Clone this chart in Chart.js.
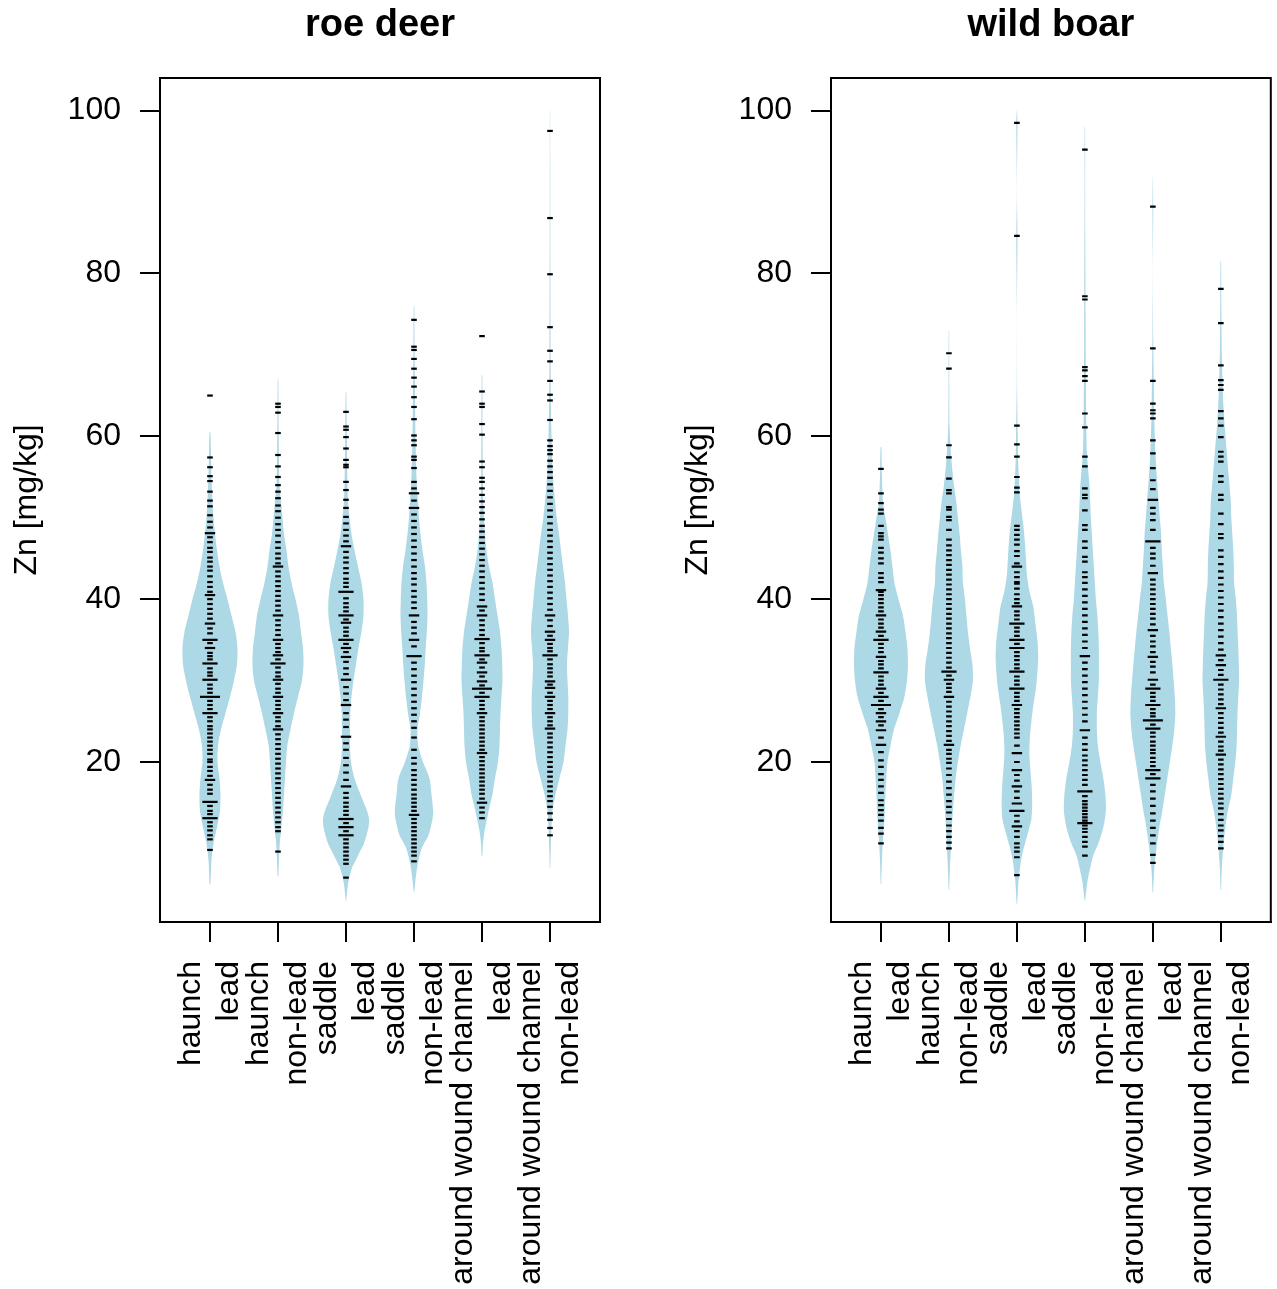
<!DOCTYPE html>
<html lang="en">
<head>
    <meta charset="UTF-8">
    <script src="https://cdn.jsdelivr.net/npm/chart.js"></script>
    <style>
        body { margin: 0; background: #fff; }
        canvas { position: absolute; top: 0; }
        #roeChart { left: 0; }
        #boarChart { left: 671px; }
    </style>
    <title>Zn beanplots</title>
</head>
<body>

<canvas id="roeChart" width="640" height="1289"></canvas>
<canvas id="boarChart" width="606" height="1289"></canvas>

<script>
    // categories (two-line tick labels) and y ticks
    const categories = [
        ['haunch', 'lead'], ['haunch', 'non-lead'],
        ['saddle', 'lead'], ['saddle', 'non-lead'],
        ['around wound channel', 'lead'], ['around wound channel', 'non-lead']
    ];
    const yTicks = [20, 40, 60, 80, 100];

    // bean outlines: density levels (Zn) and half widths
    const roeHaunchLeadY = [5, 8, 10, 12, 14, 16, 18, 20, 22, 24, 26, 28, 30, 32, 34, 36, 38, 40, 42, 44, 46, 48, 50, 52, 55, 58, 60.5];
    const roeHaunchLeadW = [0.5, 1.5, 3.5, 7, 10, 10.5, 9.5, 7.5, 8, 11, 15.5, 20, 24, 27, 27.5, 25.5, 21.5, 17.5, 13, 9.5, 7, 5, 3.5, 2.5, 1.5, 1, 0.4];
    const roeHaunchNonleadY = [6, 8, 10, 12, 14, 16, 18, 20, 22, 24, 26, 28, 30, 32, 34, 36, 38, 40, 42, 44, 46, 48, 50, 52, 54, 57, 60, 63, 67];
    const roeHaunchNonleadW = [0.4, 1, 1.8, 3.5, 5, 6, 7, 8, 9.3, 12.5, 16, 20, 24, 25.5, 25, 23, 21, 17.5, 13.5, 10.5, 8.5, 6, 4.5, 3, 1.5, 1, 0.7, 0.5, 0.3];
    const roeSaddleLeadY = [3, 5, 7, 8, 9, 10, 12, 13, 14, 16, 18, 20, 22, 24, 26, 28, 30, 32, 34, 36, 38, 40, 42, 44, 46, 48, 50, 52, 55, 60, 65.5];
    const roeSaddleLeadW = [0.3, 2, 6, 10, 14, 18, 22.5, 23, 21, 14.5, 8.5, 5, 4, 4, 4.3, 5.5, 7.5, 10, 12.5, 15.5, 17.5, 17.5, 15.5, 12, 8.5, 5.5, 3.5, 2, 1.3, 0.8, 0.3];
    const roeSaddleNonleadY = [4, 5.5, 7.5, 9.5, 11, 13, 14, 16, 18, 20, 22, 24, 26, 28, 30, 32, 34, 36, 38, 40, 42, 44, 46, 48, 50, 52, 55, 60, 65, 70, 76];
    const roeSaddleNonleadW = [0.3, 1.5, 3.8, 8, 14.5, 18.5, 19.2, 17.5, 15.5, 9, 4.2, 3.5, 6, 8, 9.5, 10.8, 11.7, 12.8, 13.5, 13.2, 12.5, 11, 8.5, 6.5, 5, 4, 2.5, 1.5, 1, 0.6, 0.3];
    const roeWoundLeadY = [8.5, 10, 11.5, 13, 14.5, 16, 18, 20, 22, 24, 26, 28, 30, 32, 34, 36, 38, 40, 42, 44, 46, 48, 50, 52, 55, 60, 67.5];
    const roeWoundLeadW = [0.4, 1, 2.5, 5, 7.5, 10.5, 13, 16, 17.5, 18, 18.5, 19.5, 20.5, 20.2, 19.5, 18, 15.5, 13, 10.5, 7, 4.5, 3, 2, 1.3, 0.8, 0.6, 0.3];
    const roeWoundNonleadY = [7, 9.5, 12, 14, 16, 18, 20, 22, 24, 26, 28, 30, 32, 34, 36, 38, 40, 42, 44, 46, 48, 50, 52, 55, 60, 65, 70, 75, 80, 85, 90, 95, 100];
    const roeWoundNonleadW = [0.3, 0.8, 1.5, 2.5, 5.5, 9.5, 13.5, 15.5, 17.5, 18.3, 18.3, 17.5, 17, 18, 19, 18, 16.5, 15, 13, 11, 9, 6.7, 5, 3, 1.5, 0.8, 0.6, 0.5, 0.4, 0.3, 0.25, 0.2, 0.15];

    const boarHaunchLeadY = [5, 8, 10.5, 13.5, 16, 18, 20, 22, 24, 26, 28, 30, 32, 34, 36, 38, 40, 42, 44, 46, 48, 50, 52, 55, 58.7];
    const boarHaunchLeadW = [0.3, 1, 2, 3.7, 4.5, 5.3, 6.5, 9.5, 13, 18.5, 23.5, 26, 27, 26.5, 24.5, 22, 17.5, 13.5, 11.5, 9.5, 7, 4.5, 2, 1, 0.4];
    const boarHaunchNonleadY = [4.3, 7, 9.5, 12, 14, 16, 18, 20, 22, 24, 26, 28, 30, 32, 34, 36, 38, 40, 42, 44, 46, 48, 50, 52, 54, 56, 58, 60, 62, 66, 70, 73];
    const boarHaunchNonleadW = [0.3, 1, 2, 3, 4, 5.3, 6.7, 9, 11.7, 15, 18.3, 21.5, 24, 23.5, 21, 19, 17.5, 16, 14, 13.5, 12, 10.7, 9, 7.3, 5, 3.3, 2, 1, 0.5, 0.4, 0.3, 0.2];
    const boarSaddleLeadY = [2.6, 5.5, 8.5, 11.5, 13, 15, 17, 19, 21, 23, 25, 27, 29, 31, 33, 35, 37, 39, 41, 43, 45, 47, 49, 51, 53, 56, 59, 64, 67, 75, 84.5, 90, 98.5, 100];
    const boarSaddleLeadW = [0.3, 1.7, 5, 11.5, 14.5, 15.3, 14.8, 13.5, 12.5, 13, 14.5, 16.5, 19, 20.5, 21.3, 20.5, 18.5, 16.5, 12.5, 10, 9, 8, 6.5, 4.5, 2.8, 1.5, 1, 0.4, 0.15, 0.05, 0.6, 0.05, 0.6, 0.1];
    const boarSaddleNonleadY = [3, 5.5, 8.5, 10, 12, 14, 16, 18, 20, 22, 24, 26, 28, 30, 32, 34, 36, 38, 40, 42, 44, 46, 48, 50, 54, 58, 62, 66, 70, 75, 80, 85, 90, 95, 98];
    const boarSaddleNonleadW = [0.3, 2.8, 8.3, 13.5, 18.5, 21, 20.5, 18.5, 15.5, 13, 12, 12, 13, 14, 14, 14, 13.5, 12.5, 11, 10, 9, 8, 7, 6, 4.5, 2, 1.3, 1, 0.8, 0.7, 0.6, 0.4, 0.3, 0.3, 0.2];
    const boarWoundLeadY = [4, 7, 9.6, 12, 14, 16, 18, 20, 22, 24, 26, 28, 30, 32, 34, 36, 38, 40, 42, 44, 46, 48, 50, 52, 55, 58, 62, 66, 72, 80, 88, 92];
    const boarWoundLeadW = [0.3, 1.5, 3.8, 6.5, 9.5, 12, 14.5, 17, 19.5, 21.5, 22.5, 22, 20.8, 19.5, 18, 16.5, 14.7, 13, 11, 10, 9, 8.3, 7, 5.8, 4, 2.5, 1.5, 1, 0.4, 0.05, 0.4, 0.05];
    const boarWoundNonleadY = [4.3, 7, 9.6, 12, 14, 16, 18, 20, 22, 24, 26, 28, 30, 32, 34, 36, 38, 40, 42, 44, 46, 48, 50, 52, 55, 58, 61, 64, 67, 70, 75, 81.5];
    const boarWoundNonleadW = [0.3, 1, 2.5, 4.5, 7, 10.5, 12.5, 14.5, 15.8, 16.3, 16.7, 17.5, 18.3, 18, 17.5, 16.8, 16.2, 15, 13.3, 13, 12.5, 11.5, 10.5, 10, 8, 6, 4, 2.5, 1.7, 1, 0.6, 0.3];

    // individual Zn values (mg/kg); repeated values give the longer bean lines
    const roeHaunchLeadZn = [65, 57.4, 56.2, 55.1, 54.5, 53.2, 52.1, 51.4, 50.3, 49.5, 48.8, 48.1, 48.1, 47.6, 47.0, 46.3, 45.8, 45.1, 44.6, 44.0, 43.5, 42.8, 42.1, 41.5, 40.9, 40.5, 40.5, 40.0, 39.4, 38.8, 38.2, 37.6, 37.0, 37.0, 36.4, 35.8, 35.0, 35.0, 35.0, 34.6, 34.0, 34.0, 33.4, 33.0, 32.6, 32.1, 32.1, 32.1, 31.5, 31.0, 30.6, 30.1, 30.1, 30.1, 29.5, 29.0, 28.5, 28.0, 28.0, 28.0, 28.0, 27.5, 27.0, 26.5, 26.0, 26.0, 26.0, 25.5, 25.0, 24.4, 24.0, 23.5, 23.0, 22.5, 22.0, 21.5, 21.0, 20.3, 20.0, 19.4, 18.9, 18.3, 17.8, 17.8, 17.2, 16.6, 16.1, 15.1, 15.1, 15.1, 14.6, 14.0, 13.6, 13.1, 13.1, 13.1, 12.6, 12.1, 11.6, 11.0, 10.5, 9.2];
    const roeHaunchNonleadZn = [64.0, 63.6, 62.9, 60.4, 57.7, 56.3, 55.0, 54.0, 53.2, 52.4, 51.5, 50.8, 50.0, 49.2, 48.5, 47.8, 47.0, 46.3, 45.6, 45.0, 44.4, 44.0, 44.0, 43.4, 42.8, 42.2, 41.6, 41.0, 40.4, 39.8, 39.2, 38.6, 38.0, 38.0, 37.4, 36.8, 36.2, 35.6, 35.0, 35.0, 34.5, 34.0, 33.5, 33.1, 33.1, 32.6, 32.1, 32.1, 32.1, 31.6, 31.0, 30.5, 30.1, 30.1, 29.6, 29.0, 28.5, 28.0, 28.0, 27.5, 27.0, 26.5, 26.0, 26.0, 25.5, 25.0, 24.4, 24.0, 24.0, 23.4, 22.8, 22.2, 21.6, 21.0, 20.4, 19.8, 19.2, 18.6, 18.0, 17.4, 16.8, 16.2, 15.6, 15.0, 14.4, 13.8, 13.2, 12.6, 12.0, 11.5, 9.0];
    const roeSaddleLeadZn = [63.0, 61.2, 60.8, 59.9, 58.5, 57.1, 56.5, 56.2, 54.4, 53.4, 52.2, 51.2, 50.1, 49.3, 48.5, 47.8, 47.1, 46.5, 46.5, 45.8, 45.1, 44.5, 43.8, 43.2, 42.5, 42.0, 41.5, 40.9, 40.9, 40.9, 40.1, 39.5, 39.0, 38.5, 38.0, 38.0, 38.0, 37.5, 37.1, 37.1, 36.5, 36.0, 35.5, 35.0, 35.0, 35.0, 34.5, 34.0, 34.0, 33.5, 32.9, 32.9, 32.3, 31.5, 30.8, 30.1, 30.1, 29.2, 28.4, 27.6, 27.0, 27.0, 26.0, 25.2, 24.3, 23.1, 23.1, 22.3, 21.5, 20.5, 19.6, 18.7, 17.8, 17.0, 17.0, 16.2, 15.6, 15.0, 14.5, 14.0, 13.5, 13.0, 13.0, 13.0, 12.5, 12.0, 12.0, 12.0, 11.5, 11.0, 11.0, 11.0, 10.5, 10.0, 9.5, 9.0, 8.5, 8.0, 7.5, 5.8];
    const roeSaddleNonleadZn = [74.3, 71.0, 70.6, 69.5, 68.3, 67.2, 66.1, 64.8, 63.6, 62.1, 60.1, 59.5, 58.9, 57.5, 57.1, 56.1, 54.4, 53.6, 53.0, 53.0, 52.1, 51.2, 51.2, 50.4, 49.6, 48.8, 48.0, 47.2, 46.4, 45.6, 44.8, 44.0, 43.2, 42.5, 41.8, 41.0, 40.3, 39.6, 38.9, 38.0, 38.0, 37.2, 36.5, 35.8, 35.0, 35.0, 34.2, 33.0, 33.0, 33.0, 32.2, 31.4, 30.6, 29.8, 29.0, 28.2, 27.4, 26.6, 25.8, 25.0, 24.2, 23.0, 21.5, 20.5, 19.8, 19.0, 18.4, 17.8, 17.2, 16.6, 16.0, 15.5, 15.0, 14.5, 14.0, 13.5, 13.5, 13.0, 12.5, 12.0, 11.5, 11.0, 10.5, 10.0, 9.5, 9.0, 8.5, 7.8];
    const roeWoundLeadZn = [72.3, 65.5, 64.0, 63.6, 61.5, 60.2, 56.9, 56.2, 54.9, 54.4, 53.6, 52.8, 52.0, 51.3, 50.6, 49.8, 49.0, 48.3, 47.6, 46.9, 46.2, 45.5, 44.8, 44.1, 43.4, 42.7, 42.0, 41.3, 40.6, 39.9, 39.1, 39.1, 38.6, 38.0, 38.0, 37.4, 36.8, 36.2, 35.6, 35.1, 35.1, 35.1, 34.6, 34.0, 33.6, 33.1, 33.1, 33.1, 32.6, 32.2, 32.2, 31.6, 31.0, 31.0, 30.5, 29.9, 29.9, 29.4, 29.0, 29.0, 29.0, 29.0, 28.5, 28.0, 28.0, 28.0, 27.5, 27.0, 26.5, 26.0, 26.0, 25.5, 25.0, 24.5, 24.0, 23.5, 23.0, 22.5, 22.0, 21.5, 21.1, 21.1, 20.6, 20.1, 19.6, 19.1, 18.6, 18.1, 17.6, 17.1, 16.6, 16.1, 15.5, 15.0, 15.0, 14.4, 13.8, 13.1];
    const roeWoundNonleadZn = [97.5, 86.8, 79.9, 73.4, 70.5, 69.2, 66.8, 65.1, 64.4, 62.0, 59.5, 58.8, 58.3, 57.8, 57.0, 56.3, 55.6, 54.9, 54.1, 53.3, 52.5, 51.7, 50.9, 50.1, 49.3, 48.5, 47.8, 47.1, 46.4, 45.7, 45.0, 44.3, 43.6, 42.9, 42.2, 41.5, 40.8, 40.1, 39.4, 38.7, 38.0, 38.0, 37.4, 36.7, 36.0, 36.0, 35.5, 35.0, 35.0, 34.5, 34.0, 33.6, 33.1, 33.1, 33.1, 32.6, 32.0, 31.5, 31.0, 30.5, 29.9, 29.9, 29.5, 29.1, 29.1, 28.5, 28.0, 28.0, 27.5, 27.0, 26.5, 26.0, 26.0, 25.5, 25.0, 24.5, 24.1, 24.1, 23.5, 23.0, 22.4, 21.8, 21.2, 20.6, 20.0, 19.4, 18.8, 18.2, 17.6, 17.0, 16.4, 15.8, 15.2, 14.5, 13.7, 12.9, 11.9, 11.0];

    const boarHaunchLeadZn = [56.0, 53.0, 51.8, 51.0, 50.5, 49.0, 48.1, 47.7, 47.3, 46.3, 45.7, 45.0, 44.4, 43.2, 42.6, 42.1, 41.1, 41.1, 40.5, 40.9, 40.0, 39.5, 39.0, 38.5, 38.0, 38.0, 37.5, 37.0, 36.5, 36.0, 36.0, 35.5, 35.0, 35.0, 35.0, 34.5, 34.0, 33.5, 32.9, 32.9, 32.4, 32.0, 31.5, 31.0, 31.0, 31.0, 30.5, 30.0, 29.5, 29.0, 29.0, 28.5, 28.0, 28.0, 28.0, 27.5, 27.0, 27.0, 27.0, 27.0, 26.5, 26.0, 26.0, 25.5, 25.0, 25.0, 24.5, 23.9, 23.9, 23.0, 22.1, 22.1, 21.2, 20.2, 19.4, 18.5, 17.8, 17.0, 16.2, 15.3, 14.7, 14.1, 13.5, 12.8, 11.9, 11.2, 10.0];
    const boarHaunchNonleadZn = [70.2, 68.3, 58.9, 57.4, 54.8, 53.4, 53.0, 51.3, 51.0, 50.1, 49.7, 48.5, 47.3, 46.6, 46.0, 45.4, 44.8, 44.2, 43.6, 43.0, 42.4, 41.8, 41.2, 40.6, 40.0, 39.4, 38.8, 38.2, 37.6, 37.0, 36.4, 35.8, 35.2, 34.6, 34.0, 33.4, 32.8, 32.2, 31.6, 31.1, 31.1, 31.1, 30.6, 30.1, 30.1, 29.6, 29.1, 28.6, 28.0, 28.0, 27.4, 26.8, 26.2, 25.6, 25.0, 24.4, 23.8, 23.2, 22.6, 22.1, 22.1, 21.5, 21.0, 20.4, 19.9, 19.2, 18.4, 17.6, 16.8, 16.0, 15.2, 14.5, 13.8, 13.0, 12.2, 11.5, 10.8, 10.1, 9.4];
    const boarSaddleLeadZn = [98.5, 84.6, 61.3, 59.0, 57.5, 55.0, 53.7, 53.1, 49.0, 48.5, 47.9, 47.3, 46.7, 45.9, 45.3, 44.4, 44.0, 44.0, 43.3, 42.7, 42.1, 41.9, 41.3, 40.6, 40.0, 39.5, 39.1, 39.1, 38.5, 38.0, 37.5, 37.0, 37.0, 37.0, 36.5, 36.0, 35.5, 35.0, 35.0, 35.0, 34.5, 34.0, 34.0, 34.0, 33.5, 33.0, 32.5, 32.0, 31.5, 31.1, 31.1, 31.1, 30.5, 30.0, 29.5, 29.0, 29.0, 29.0, 28.5, 28.0, 27.5, 27.0, 27.0, 26.5, 26.0, 25.5, 25.0, 24.5, 24.0, 23.5, 23.0, 22.0, 21.1, 21.1, 20.0, 19.0, 19.0, 18.4, 17.7, 17.0, 17.0, 16.4, 15.6, 14.9, 14.9, 14.0, 14.0, 14.0, 13.4, 12.7, 12.1, 12.1, 11.5, 10.8, 10.0, 9.5, 9.0, 8.3, 6.1];
    const boarSaddleNonleadZn = [95.2, 77.2, 76.8, 68.5, 68.1, 67.4, 66.8, 62.8, 61.1, 57.5, 56.3, 53.6, 52.8, 52.4, 50.9, 49.1, 48.5, 47.1, 46.3, 45.2, 44.6, 43.3, 42.7, 42.0, 41.2, 40.4, 39.6, 38.8, 38.0, 37.2, 36.4, 35.6, 34.8, 34.0, 33.0, 33.0, 32.2, 31.4, 30.6, 29.8, 29.0, 28.2, 27.4, 26.6, 25.8, 25.0, 23.9, 23.9, 23.0, 22.2, 21.5, 20.8, 20.2, 19.6, 19.0, 18.4, 17.8, 17.2, 16.4, 16.4, 16.4, 15.8, 15.2, 14.8, 14.4, 14.0, 13.6, 13.2, 12.8, 12.5, 12.5, 12.5, 12.2, 11.8, 11.4, 10.8, 10.2, 9.6, 8.5];
    const boarWoundLeadZn = [88.2, 70.8, 66.8, 64.0, 63.2, 62.8, 62.2, 59.5, 57.9, 56.1, 54.6, 53.5, 52.2, 52.2, 51.2, 50.5, 49.7, 48.5, 47.1, 47.1, 47.1, 46.3, 45.6, 45.0, 44.1, 43.2, 43.2, 42.4, 41.8, 41.2, 40.6, 40.0, 39.4, 38.8, 38.2, 37.6, 36.9, 36.2, 36.2, 35.5, 34.8, 34.2, 33.5, 32.9, 32.9, 32.3, 31.7, 31.0, 30.1, 30.1, 29.5, 29.0, 29.0, 29.0, 28.5, 28.0, 27.5, 27.0, 27.0, 27.0, 26.5, 26.0, 25.6, 25.1, 25.1, 25.1, 25.1, 24.6, 24.1, 24.1, 24.1, 23.6, 23.1, 22.5, 22.0, 21.5, 21.1, 20.5, 20.0, 19.5, 19.0, 19.0, 19.0, 18.5, 18.0, 18.0, 18.0, 17.2, 16.4, 15.5, 14.6, 13.7, 12.8, 11.9, 11.0, 10.0, 8.6, 7.6];
    const boarWoundNonleadZn = [78.1, 73.9, 68.7, 66.9, 66.3, 65.7, 63.1, 62.2, 61.3, 59.9, 58.1, 57.5, 56.9, 55.1, 54.4, 52.8, 52.2, 50.5, 49.2, 48.0, 47.5, 46.0, 45.2, 44.3, 43.4, 42.6, 41.8, 41.0, 40.2, 39.4, 38.6, 37.8, 37.0, 36.2, 35.4, 34.6, 33.8, 33.1, 33.1, 32.5, 31.9, 31.9, 31.3, 30.7, 30.1, 30.1, 30.1, 29.5, 28.9, 28.3, 27.7, 27.1, 26.6, 26.6, 26.0, 25.4, 24.8, 24.2, 23.6, 23.1, 23.1, 22.5, 21.9, 21.4, 20.9, 20.9, 20.3, 19.7, 19.1, 18.5, 17.9, 17.3, 16.7, 16.1, 15.5, 14.9, 14.3, 13.6, 12.9, 12.2, 11.6, 10.9, 10.2, 9.4];

    const roeBeans = [
        [roeHaunchLeadY, roeHaunchLeadW], [roeHaunchNonleadY, roeHaunchNonleadW],
        [roeSaddleLeadY, roeSaddleLeadW], [roeSaddleNonleadY, roeSaddleNonleadW],
        [roeWoundLeadY, roeWoundLeadW], [roeWoundNonleadY, roeWoundNonleadW]
    ];
    const roeValues = [roeHaunchLeadZn, roeHaunchNonleadZn, roeSaddleLeadZn, roeSaddleNonleadZn, roeWoundLeadZn, roeWoundNonleadZn];
    const boarBeans = [
        [boarHaunchLeadY, boarHaunchLeadW], [boarHaunchNonleadY, boarHaunchNonleadW],
        [boarSaddleLeadY, boarSaddleLeadW], [boarSaddleNonleadY, boarSaddleNonleadW],
        [boarWoundLeadY, boarWoundLeadW], [boarWoundNonleadY, boarWoundNonleadW]
    ];
    const boarValues = [boarHaunchLeadZn, boarHaunchNonleadZn, boarSaddleLeadZn, boarSaddleNonleadZn, boarWoundLeadZn, boarWoundNonleadZn];

    const beanScale = 1 / 68;   // half width -> x units
    const font = "'Liberation Sans', Arial, sans-serif";
    Chart.defaults.font.family = font;
    Chart.defaults.color = '#000';

    // closed outline: up the right side, down the left side
    function beanOutline(pos, levels, widths) {
        const right = levels.map((y, i) => ({x: pos + widths[i] * beanScale, y: y}));
        const left = levels.map((y, i) => ({x: pos - widths[i] * beanScale, y: y})).reverse();
        return right.concat(left);
    }

    // one bean line per distinct value, n = how often it occurs
    function beanLines(pos, values) {
        const counts = new Map();
        values.forEach(v => counts.set(v, (counts.get(v) || 0) + 1));
        return Array.from(counts, ([y, n]) => ({x: pos, y: y, n: n}));
    }

    // title above the plot area and the box round it
    const panelFrame = {
        id: 'panelFrame',
        afterDraw(chart, args, opts) {
            const {ctx, chartArea: a} = chart;
            ctx.save();
            ctx.font = 'bold 38px ' + font;
            ctx.fillStyle = '#000';
            ctx.textAlign = 'center';
            ctx.textBaseline = 'alphabetic';
            ctx.fillText(opts.text, (a.left + a.right) / 2, 36);
            ctx.lineWidth = 2;
            ctx.strokeStyle = '#000';
            ctx.strokeRect(a.left, a.top, a.right - a.left, a.bottom - a.top);
            ctx.restore();
        }
    };

    function makeChart(id, title, beans, values, padRight) {
        const datasets = [{
            data: values.flatMap((vals, i) => beanLines(i + 1, vals)),
            showLine: false,
            pointStyle: 'line',
            pointRadius: c => 2.8 + 2.4 * (c.raw.n - 1),
            pointBorderColor: '#000',
            pointBorderWidth: 2.2,
            order: 0
        }];
        beans.forEach((b, i) => datasets.push({
            data: beanOutline(i + 1, b[0], b[1]),
            fill: 'shape',
            backgroundColor: '#add8e6',
            borderWidth: 0,
            pointRadius: 0,
            tension: 0.25,
            order: 1
        }));

        return new Chart(document.getElementById(id), {
            type: 'line',
            data: { datasets: datasets },
            plugins: [panelFrame],
            options: {
                responsive: false,
                animation: false,
                events: [],
                layout: { padding: { top: 78, right: padRight, left: 0, bottom: 0 } },
                plugins: {
                    legend: { display: false },
                    tooltip: { enabled: false },
                    panelFrame: { text: title }
                },
                scales: {
                    x: {
                        type: 'linear',
                        min: 0.265,
                        max: 6.735,
                        afterBuildTicks: s => { s.ticks = categories.map((c, i) => ({value: i + 1})); },
                        afterFit: s => { s.height = 367; s.paddingLeft = 0; s.paddingRight = 0; },
                        ticks: {
                            callback: v => categories[v - 1],
                            autoSkip: false,
                            minRotation: 90,
                            maxRotation: 90,
                            padding: 19,
                            labelOffset: -19,
                            color: '#000',
                            font: { size: 32 }
                        },
                        grid: { drawOnChartArea: false, tickLength: 20, color: '#000', lineWidth: 2 },
                        border: { color: '#000', width: 2 }
                    },
                    y: {
                        type: 'linear',
                        min: 0.35,
                        max: 104,
                        afterBuildTicks: s => { s.ticks = yTicks.map(v => ({value: v})); },
                        afterFit: s => { s.width = 160; s.paddingTop = 0; s.paddingBottom = 0; },
                        ticks: { padding: 19, color: '#000', font: { size: 32 } },
                        grid: { drawOnChartArea: false, tickLength: 20, color: '#000', lineWidth: 2 },
                        border: { color: '#000', width: 2 },
                        title: {
                            display: true,
                            text: 'Zn [mg/kg]',
                            color: '#000',
                            font: { size: 32 },
                            padding: { top: 8, bottom: 0 }
                        }
                    }
                }
            }
        });
    }

    makeChart('roeChart', 'roe deer', roeBeans, roeValues, 40);
    makeChart('boarChart', 'wild boar', boarBeans, boarValues, 5);
</script>

</body>
</html>
